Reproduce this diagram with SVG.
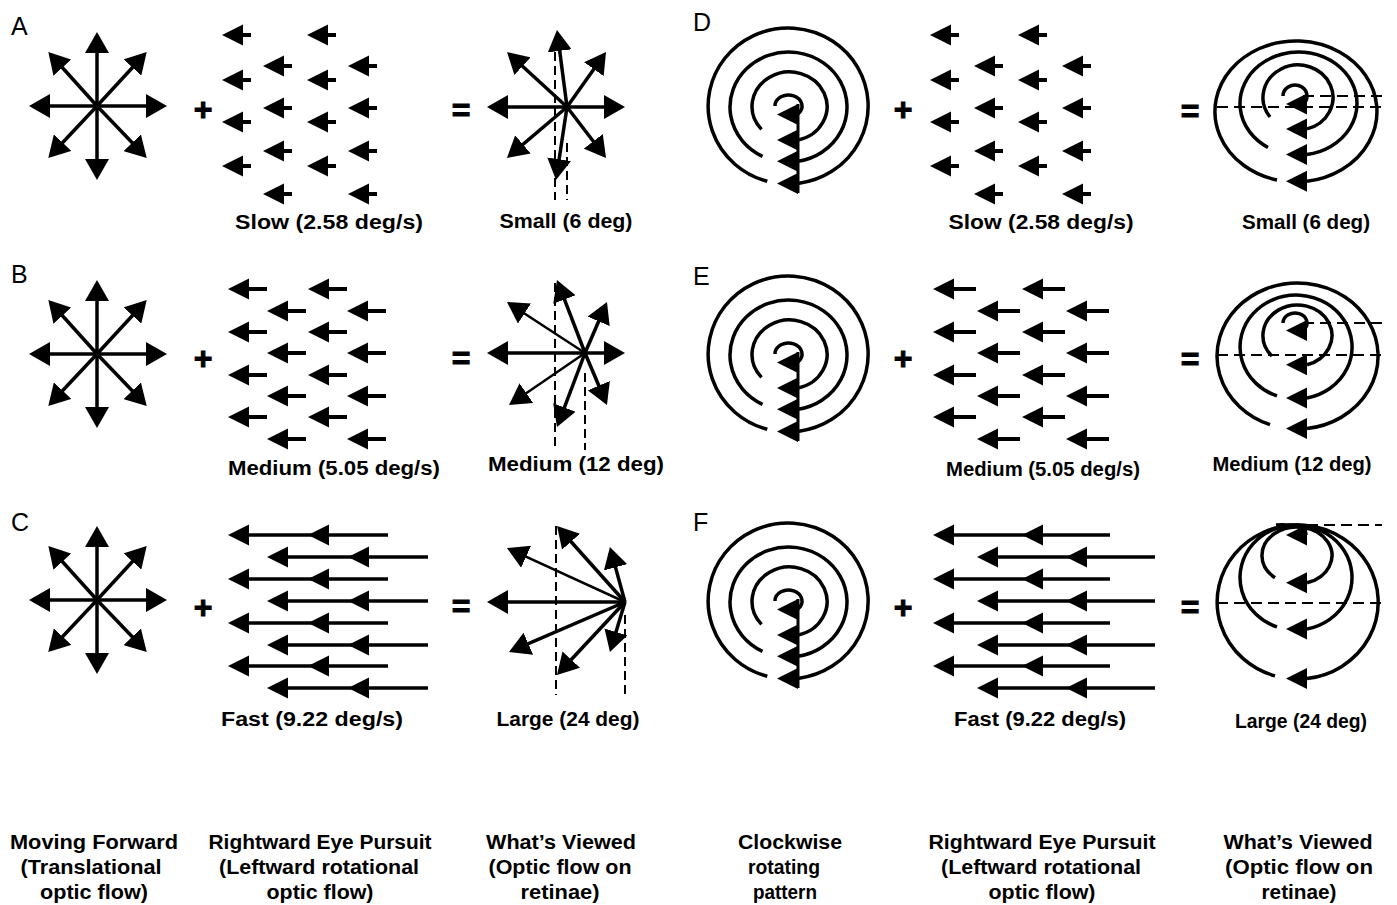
<svg xmlns="http://www.w3.org/2000/svg" xmlns:xlink="http://www.w3.org/1999/xlink" width="1397" height="905" viewBox="0 0 1397 905">
<style>
.t{font-family:"Liberation Sans",Arial,sans-serif;font-weight:bold;font-size:20px;fill:#000;text-anchor:middle}
.lab{font-family:"Liberation Sans",Arial,sans-serif;font-size:25px;fill:#000}
.op{font-family:"Liberation Sans",Arial,sans-serif;font-weight:bold;font-size:32px;fill:#000;text-anchor:middle;stroke:#000;stroke-width:1}
.a{stroke:#000;stroke-width:3.5;fill:none;marker-end:url(#h)}
.a2{stroke:#000;stroke-width:2.5;fill:none;marker-end:url(#h)}
.d{stroke:#000;stroke-width:2;fill:none;stroke-dasharray:9 5}
.dh{stroke:#000;stroke-width:2;fill:none;stroke-dasharray:11 6}
.r{stroke:#000;stroke-width:3.5;fill:none}
.fl{stroke:#000;stroke-width:3.5;fill:none}
</style>
<defs>
<marker id="h" viewBox="0 0 21 24" markerWidth="21" markerHeight="24" refX="17" refY="12" orient="auto" markerUnits="userSpaceOnUse"><path d="M0,0 L21,12 L0,24 Z" fill="#000"/></marker>
<path id="hd" d="M0,0 L21,-10.5 L21,10.5 Z" fill="#000"/>
<path id="ps" d="M0,0 L21,-10.5 L21,10.5 Z M19,-2 H29 V2 H19 Z" fill="#000"/>
<path id="pm" d="M0,0 L21,-10.5 L21,10.5 Z M19,-2 H39 V2 H19 Z" fill="#000"/>
<path id="pm2" d="M0,0 L21,-10.5 L21,10.5 Z M19,-2 H43 V2 H19 Z" fill="#000"/>
<g id="star">
<line class="a" x1="0" y1="0" x2="0" y2="-70"/>
<line class="a" x1="0" y1="0" x2="0" y2="70"/>
<line class="a" x1="0" y1="0" x2="-64" y2="0"/>
<line class="a" x1="0" y1="0" x2="66" y2="0"/>
<line class="a" x1="0" y1="0" x2="-46" y2="-51"/>
<line class="a" x1="0" y1="0" x2="47" y2="-51"/>
<line class="a" x1="0" y1="0" x2="-46" y2="49"/>
<line class="a" x1="0" y1="0" x2="47" y2="49"/>
</g>
<g id="spiral">
<path class="r" d="M767.3,181.3 A80,78 0 1 1 798,183.4"/>
<path class="r" d="M762.5,156.3 A58.5,55 0 1 1 798,161.3"/>
<path class="r" d="M761.5,129.4 A37.5,34.5 0 1 1 798,140.1"/>
<path class="r" d="M775,106 A13.5,11 0 1 1 798,113.8"/>
<line x1="798" y1="104" x2="798" y2="193" stroke="#000" stroke-width="3"/>
<use href="#hd" x="777" y="114.5"/>
<use href="#hd" x="777" y="140.1"/>
<use href="#hd" x="777" y="161.3"/>
<use href="#hd" x="777" y="183.4"/>
</g>
</defs>
<rect width="1397" height="905" fill="#fff"/>

<g id="panel-letters">
<text class="lab" x="11" y="35">A</text>
<text class="lab" x="11" y="283">B</text>
<text class="lab" x="11" y="531">C</text>
<text class="lab" x="693" y="31">D</text>
<text class="lab" x="693" y="285">E</text>
<text class="lab" x="693" y="531">F</text>
</g>

<g id="operators">
<text class="op" x="203" y="120">+</text>
<text class="op" x="203" y="369">+</text>
<text class="op" x="203" y="618">+</text>
<text class="op" x="461" y="121">=</text>
<text class="op" x="461" y="369">=</text>
<text class="op" x="461" y="617">=</text>
<text class="op" x="903" y="120">+</text>
<text class="op" x="903" y="369">+</text>
<text class="op" x="903" y="618">+</text>
<text class="op" x="1190" y="122">=</text>
<text class="op" x="1190" y="370">=</text>
<text class="op" x="1190" y="618">=</text>
</g>

<g id="A-translational"><use href="#star" x="97" y="106"/></g>
<g id="B-translational"><use href="#star" x="97" y="354"/></g>
<g id="C-translational"><use href="#star" x="97" y="600"/></g>

<g id="A-pursuit">
<use href="#ps" x="222" y="35"/><use href="#ps" x="307" y="35"/>
<use href="#ps" x="263" y="66"/><use href="#ps" x="348" y="66"/>
<use href="#ps" x="222" y="80"/><use href="#ps" x="307" y="80"/>
<use href="#ps" x="263" y="108"/><use href="#ps" x="348" y="108"/>
<use href="#ps" x="222" y="122"/><use href="#ps" x="307" y="122"/>
<use href="#ps" x="263" y="151"/><use href="#ps" x="348" y="151"/>
<use href="#ps" x="222" y="166"/><use href="#ps" x="307" y="166"/>
<use href="#ps" x="263" y="194"/><use href="#ps" x="348" y="194"/>
<text class="t" x="329" y="229" textLength="188" lengthAdjust="spacingAndGlyphs">Slow (2.58 deg/s)</text>
</g>

<g id="B-pursuit">
<use href="#pm" x="228" y="289"/><use href="#pm" x="308" y="289"/>
<use href="#pm" x="267" y="311"/><use href="#pm" x="347" y="311"/>
<use href="#pm" x="228" y="332"/><use href="#pm" x="308" y="332"/>
<use href="#pm" x="267" y="353"/><use href="#pm" x="347" y="353"/>
<use href="#pm" x="228" y="375"/><use href="#pm" x="308" y="375"/>
<use href="#pm" x="267" y="396"/><use href="#pm" x="347" y="396"/>
<use href="#pm" x="228" y="417"/><use href="#pm" x="308" y="417"/>
<use href="#pm" x="267" y="439"/><use href="#pm" x="347" y="439"/>
<text class="t" x="334" y="475" textLength="212" lengthAdjust="spacingAndGlyphs">Medium (5.05 deg/s)</text>
</g>

<g id="C-pursuit">
<line class="fl" x1="232" y1="535" x2="388" y2="535"/><use href="#hd" x="228" y="535"/><use href="#hd" x="308" y="535"/>
<line class="fl" x1="232" y1="579" x2="388" y2="579"/><use href="#hd" x="228" y="579"/><use href="#hd" x="308" y="579"/>
<line class="fl" x1="232" y1="623" x2="388" y2="623"/><use href="#hd" x="228" y="623"/><use href="#hd" x="308" y="623"/>
<line class="fl" x1="232" y1="666" x2="388" y2="666"/><use href="#hd" x="228" y="666"/><use href="#hd" x="308" y="666"/>
<line class="fl" x1="271" y1="557" x2="428" y2="557"/><use href="#hd" x="267" y="557"/><use href="#hd" x="348" y="557"/>
<line class="fl" x1="271" y1="601" x2="428" y2="601"/><use href="#hd" x="267" y="601"/><use href="#hd" x="348" y="601"/>
<line class="fl" x1="271" y1="645" x2="428" y2="645"/><use href="#hd" x="267" y="645"/><use href="#hd" x="348" y="645"/>
<line class="fl" x1="271" y1="688" x2="428" y2="688"/><use href="#hd" x="267" y="688"/><use href="#hd" x="348" y="688"/>
<text class="t" x="312" y="726" textLength="182" lengthAdjust="spacingAndGlyphs">Fast (9.22 deg/s)</text>
</g>

<g id="A-viewed">
<line class="d" x1="555" y1="52" x2="555" y2="200"/>
<line class="d" x1="567" y1="143" x2="567" y2="200"/>
<line class="a" x1="567" y1="107" x2="491" y2="107"/>
<line class="a" x1="567" y1="107" x2="621" y2="107"/>
<line class="a" x1="567" y1="107" x2="510" y2="54.7"/>
<line class="a" x1="567" y1="107" x2="603.7" y2="55.3"/>
<line class="a" x1="567" y1="107" x2="510" y2="155.4"/>
<line class="a" x1="567" y1="107" x2="603.6" y2="154.8"/>
<line class="a" x1="567" y1="107" x2="557.5" y2="34"/>
<line class="a" x1="567" y1="107" x2="556.6" y2="176"/>
<text class="t" x="566" y="228" textLength="133" lengthAdjust="spacingAndGlyphs">Small (6 deg)</text>
</g>

<g id="B-viewed">
<line class="d" x1="555" y1="283" x2="555" y2="450"/>
<line class="d" x1="585" y1="373" x2="585" y2="450"/>
<line class="a" x1="585" y1="353" x2="491" y2="353"/>
<line class="a" x1="585" y1="353" x2="621" y2="353"/>
<line class="a2" x1="585" y1="353" x2="510.3" y2="304.2"/>
<line class="a" x1="585" y1="353" x2="605.4" y2="305.7"/>
<line class="a" x1="585" y1="353" x2="558.4" y2="283.7"/>
<line class="a2" x1="585" y1="353" x2="512.3" y2="402.7"/>
<line class="a" x1="585" y1="353" x2="605.4" y2="401.3"/>
<line class="a" x1="585" y1="353" x2="558.4" y2="423.3"/>
<text class="t" x="576" y="471" textLength="176" lengthAdjust="spacingAndGlyphs">Medium (12 deg)</text>
</g>

<g id="C-viewed">
<line class="d" x1="556" y1="526" x2="556" y2="695"/>
<line class="d" x1="625" y1="615" x2="625" y2="695"/>
<line class="a" x1="625" y1="602" x2="491" y2="602"/>
<line class="a2" x1="625" y1="602" x2="510.6" y2="549.7"/>
<line class="a" x1="625" y1="602" x2="559.7" y2="529"/>
<line class="a" x1="625" y1="602" x2="611" y2="550.9"/>
<line class="a" x1="625" y1="602" x2="512.7" y2="650.4"/>
<line class="a" x1="625" y1="602" x2="559.7" y2="672"/>
<line class="a" x1="625" y1="602" x2="611.1" y2="648.2"/>
<text class="t" x="568" y="726" textLength="143" lengthAdjust="spacingAndGlyphs">Large (24 deg)</text>
</g>

<g id="D-rotation"><use href="#spiral"/></g>
<g id="E-rotation"><use href="#spiral" y="248"/></g>
<g id="F-rotation"><use href="#spiral" y="495"/></g>

<g id="D-pursuit">
<use href="#ps" x="930" y="35"/><use href="#ps" x="1018" y="35"/>
<use href="#ps" x="974" y="66"/><use href="#ps" x="1062" y="66"/>
<use href="#ps" x="930" y="80"/><use href="#ps" x="1018" y="80"/>
<use href="#ps" x="974" y="108"/><use href="#ps" x="1062" y="108"/>
<use href="#ps" x="930" y="122"/><use href="#ps" x="1018" y="122"/>
<use href="#ps" x="974" y="151"/><use href="#ps" x="1062" y="151"/>
<use href="#ps" x="930" y="166"/><use href="#ps" x="1018" y="166"/>
<use href="#ps" x="974" y="194"/><use href="#ps" x="1062" y="194"/>
<text class="t" x="1041" y="229" textLength="185" lengthAdjust="spacingAndGlyphs">Slow (2.58 deg/s)</text>
</g>

<g id="E-pursuit">
<use href="#pm2" x="933" y="289"/><use href="#pm2" x="1022" y="289"/>
<use href="#pm2" x="977" y="311"/><use href="#pm2" x="1066" y="311"/>
<use href="#pm2" x="933" y="332"/><use href="#pm2" x="1022" y="332"/>
<use href="#pm2" x="977" y="353"/><use href="#pm2" x="1066" y="353"/>
<use href="#pm2" x="933" y="375"/><use href="#pm2" x="1022" y="375"/>
<use href="#pm2" x="977" y="396"/><use href="#pm2" x="1066" y="396"/>
<use href="#pm2" x="933" y="417"/><use href="#pm2" x="1022" y="417"/>
<use href="#pm2" x="977" y="439"/><use href="#pm2" x="1066" y="439"/>
<text class="t" x="1043" y="476" textLength="194" lengthAdjust="spacingAndGlyphs">Medium (5.05 deg/s)</text>
</g>

<g id="F-pursuit">
<line class="fl" x1="937" y1="535" x2="1110" y2="535"/><use href="#hd" x="933" y="535"/><use href="#hd" x="1022" y="535"/>
<line class="fl" x1="937" y1="579" x2="1110" y2="579"/><use href="#hd" x="933" y="579"/><use href="#hd" x="1022" y="579"/>
<line class="fl" x1="937" y1="623" x2="1110" y2="623"/><use href="#hd" x="933" y="623"/><use href="#hd" x="1022" y="623"/>
<line class="fl" x1="937" y1="666" x2="1110" y2="666"/><use href="#hd" x="933" y="666"/><use href="#hd" x="1022" y="666"/>
<line class="fl" x1="981" y1="557" x2="1155" y2="557"/><use href="#hd" x="977" y="557"/><use href="#hd" x="1066" y="557"/>
<line class="fl" x1="981" y1="601" x2="1155" y2="601"/><use href="#hd" x="977" y="601"/><use href="#hd" x="1066" y="601"/>
<line class="fl" x1="981" y1="645" x2="1155" y2="645"/><use href="#hd" x="977" y="645"/><use href="#hd" x="1066" y="645"/>
<line class="fl" x1="981" y1="688" x2="1155" y2="688"/><use href="#hd" x="977" y="688"/><use href="#hd" x="1066" y="688"/>
<text class="t" x="1040" y="726" textLength="172" lengthAdjust="spacingAndGlyphs">Fast (9.22 deg/s)</text>
</g>

<g id="D-viewed">
<line class="dh" x1="1217" y1="107" x2="1382" y2="107"/>
<line class="dh" x1="1303" y1="96" x2="1382" y2="96"/>
<path class="r" d="M1277,180 A81,70.5 0 1 1 1307,181.3"/>
<path class="r" d="M1268,147.5 A58.5,51.5 0 1 1 1307,154.5"/>
<path class="r" d="M1270,117 A35,32.5 0 1 1 1307,128.9"/>
<path class="r" d="M1283,96 A12,11 0 1 1 1304,103.3"/>
<use href="#hd" x="1286" y="104"/>
<use href="#hd" x="1286" y="128.9"/>
<use href="#hd" x="1286" y="154.5"/>
<use href="#hd" x="1286" y="181.3"/>
<text class="t" x="1306" y="229" textLength="128" lengthAdjust="spacingAndGlyphs">Small (6 deg)</text>
</g>

<g id="E-viewed">
<line class="dh" x1="1217" y1="355" x2="1382" y2="355"/>
<line class="dh" x1="1303" y1="323" x2="1382" y2="323"/>
<path class="r" d="M1270,424.6 A80.5,73 0 1 1 1307,428.5"/>
<path class="r" d="M1277,395.9 A56,52 0 1 1 1307,398"/>
<path class="r" d="M1272,356.1 A34.5,30.5 0 1 1 1307,364.8"/>
<path class="r" d="M1283,323 A12,10 0 1 1 1304,329.6"/>
<use href="#hd" x="1286" y="330.5"/>
<use href="#hd" x="1286" y="364.8"/>
<use href="#hd" x="1286" y="398"/>
<use href="#hd" x="1286" y="428.5"/>
<text class="t" x="1292" y="471" textLength="159" lengthAdjust="spacingAndGlyphs">Medium (12 deg)</text>
</g>

<g id="F-viewed">
<line class="dh" x1="1307" y1="525" x2="1382" y2="525"/>
<line class="dh" x1="1217" y1="603" x2="1382" y2="603"/>
<path class="r" d="M1275,675.9 A80.5,77 0 1 1 1307,678.5"/>
<path class="r" d="M1277,626.9 A56,52.5 0 1 1 1307,629"/>
<path class="r" d="M1275,577.7 A35,28.5 0 1 1 1307,582.8"/>
<path class="r" d="M1276,525 C1295,524 1306,527 1306,535"/>
<use href="#hd" x="1286" y="535"/>
<use href="#hd" x="1286" y="582.8"/>
<use href="#hd" x="1286" y="629"/>
<use href="#hd" x="1286" y="678.5"/>
<text class="t" x="1301" y="728" textLength="132" lengthAdjust="spacingAndGlyphs">Large (24 deg)</text>
</g>

<g id="column-captions">
<text class="t" x="94" y="849" textLength="168" lengthAdjust="spacingAndGlyphs">Moving Forward</text>
<text class="t" x="91" y="874" textLength="141" lengthAdjust="spacingAndGlyphs">(Translational</text>
<text class="t" x="94" y="899" textLength="108" lengthAdjust="spacingAndGlyphs">optic flow)</text>
<text class="t" x="320" y="849" textLength="223" lengthAdjust="spacingAndGlyphs">Rightward Eye Pursuit</text>
<text class="t" x="319" y="874" textLength="200" lengthAdjust="spacingAndGlyphs">(Leftward rotational</text>
<text class="t" x="320" y="899" textLength="107" lengthAdjust="spacingAndGlyphs">optic flow)</text>
<text class="t" x="561" y="849" textLength="150" lengthAdjust="spacingAndGlyphs">What’s Viewed</text>
<text class="t" x="560" y="874" textLength="143" lengthAdjust="spacingAndGlyphs">(Optic flow on</text>
<text class="t" x="560" y="899" textLength="79" lengthAdjust="spacingAndGlyphs">retinae)</text>
<text class="t" x="790" y="849" textLength="104" lengthAdjust="spacingAndGlyphs">Clockwise</text>
<text class="t" x="784" y="874" textLength="72" lengthAdjust="spacingAndGlyphs">rotating</text>
<text class="t" x="785" y="899" textLength="64" lengthAdjust="spacingAndGlyphs">pattern</text>
<text class="t" x="1042" y="849" textLength="227" lengthAdjust="spacingAndGlyphs">Rightward Eye Pursuit</text>
<text class="t" x="1041" y="874" textLength="200" lengthAdjust="spacingAndGlyphs">(Leftward rotational</text>
<text class="t" x="1042" y="899" textLength="107" lengthAdjust="spacingAndGlyphs">optic flow)</text>
<text class="t" x="1298" y="849" textLength="149" lengthAdjust="spacingAndGlyphs">What’s Viewed</text>
<text class="t" x="1299" y="874" textLength="148" lengthAdjust="spacingAndGlyphs">(Optic flow on</text>
<text class="t" x="1299" y="899" textLength="75" lengthAdjust="spacingAndGlyphs">retinae)</text>
</g>
</svg>
